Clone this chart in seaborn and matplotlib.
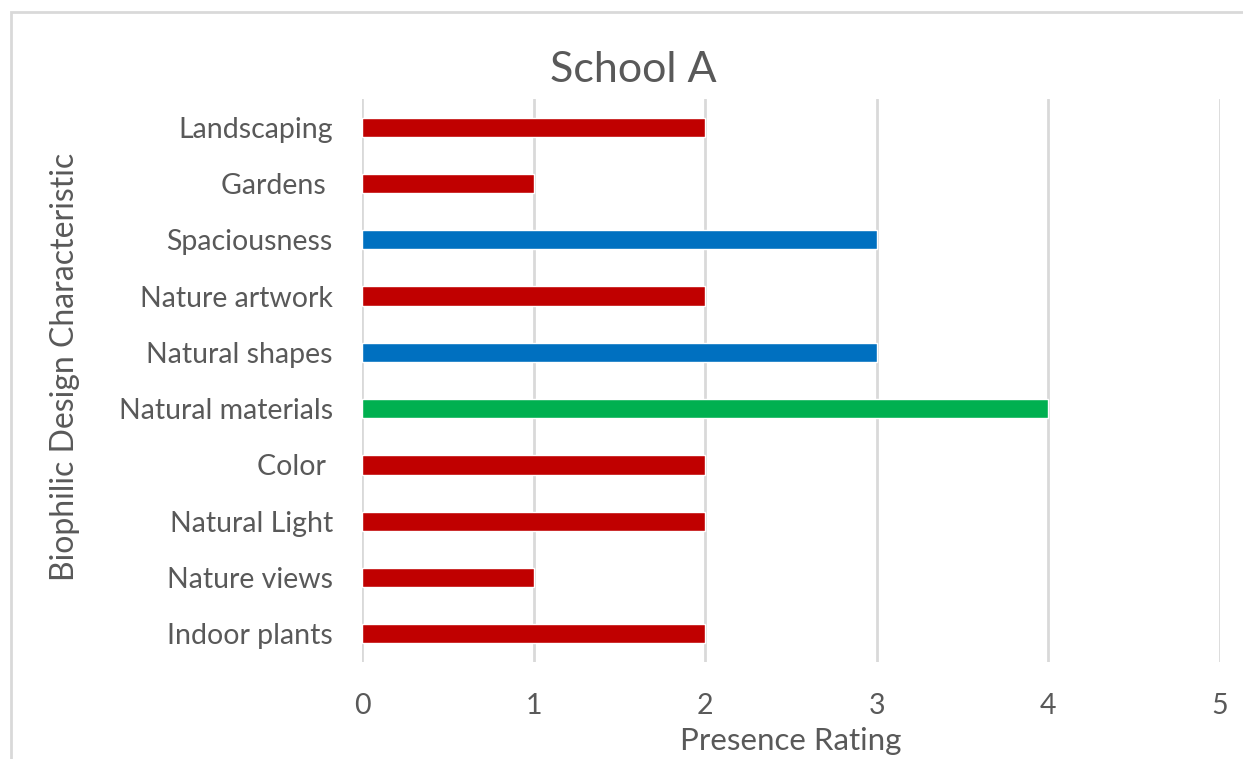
import matplotlib
matplotlib.use("Agg")
import matplotlib.pyplot as plt
import seaborn as sns
import pandas as pd
from matplotlib.patches import Rectangle

categories = ["Landscaping", "Gardens ", "Spaciousness", "Nature artwork", "Natural shapes",
              "Natural materials", "Color ", "Natural Light", "Nature views", "Indoor plants"]
values = [2, 1, 3, 2, 3, 4, 2, 2, 1, 2]
bar_colors = ["#C00000", "#C00000", "#0070C0", "#C00000", "#0070C0",
              "#00B050", "#C00000", "#C00000", "#C00000", "#C00000"]
x_ticks = [0, 1, 2, 3, 4, 5]

sns.set_style("white")
plt.rcParams['font.family'] = ['Lato', 'DejaVu Sans']

df = pd.DataFrame({"cat": categories, "val": values})

fig = plt.figure(figsize=(12.43, 7.59), dpi=100)
ax = fig.add_axes([362/1243, 1-662/759, (1220-362)/1243, (662-99)/759])

sns.barplot(data=df, y="cat", x="val", hue="cat", order=categories,
            palette=dict(zip(categories, bar_colors)), legend=False,
            width=0.34, ax=ax, zorder=3, saturation=1)

ax.set_xlim(0, 5)
ax.set_xticks(x_ticks)
ax.set_ylim(9.5, -0.5)
for x in x_ticks:
    ax.axvline(x, color="#D9D9D9", lw=2, zorder=1)
for s in ax.spines.values():
    s.set_visible(False)
ax.tick_params(axis="both", length=0, labelsize=20.5, colors="#595959")
ax.tick_params(axis="x", pad=22)
ax.tick_params(axis="y", pad=21)
ax.set_xlabel("Presence Rating", fontsize=22.5, color="#595959", labelpad=6)
ax.set_ylabel("Biophilic Design Characteristic", fontsize=23, color="#595959")
ax.yaxis.set_label_coords((80-362)/858, (662-367)/563)
fig.text(633/1243, 1-70/759, "School A", fontsize=31, color="#595959", ha="center", va="center")

fig.patches.append(Rectangle((11/1243, -0.1), 1.2, 1-12/759+0.1, transform=fig.transFigure,
                             fill=False, edgecolor="#D9D9D9", lw=2, zorder=0))

fig.savefig("out.png", dpi=100)
